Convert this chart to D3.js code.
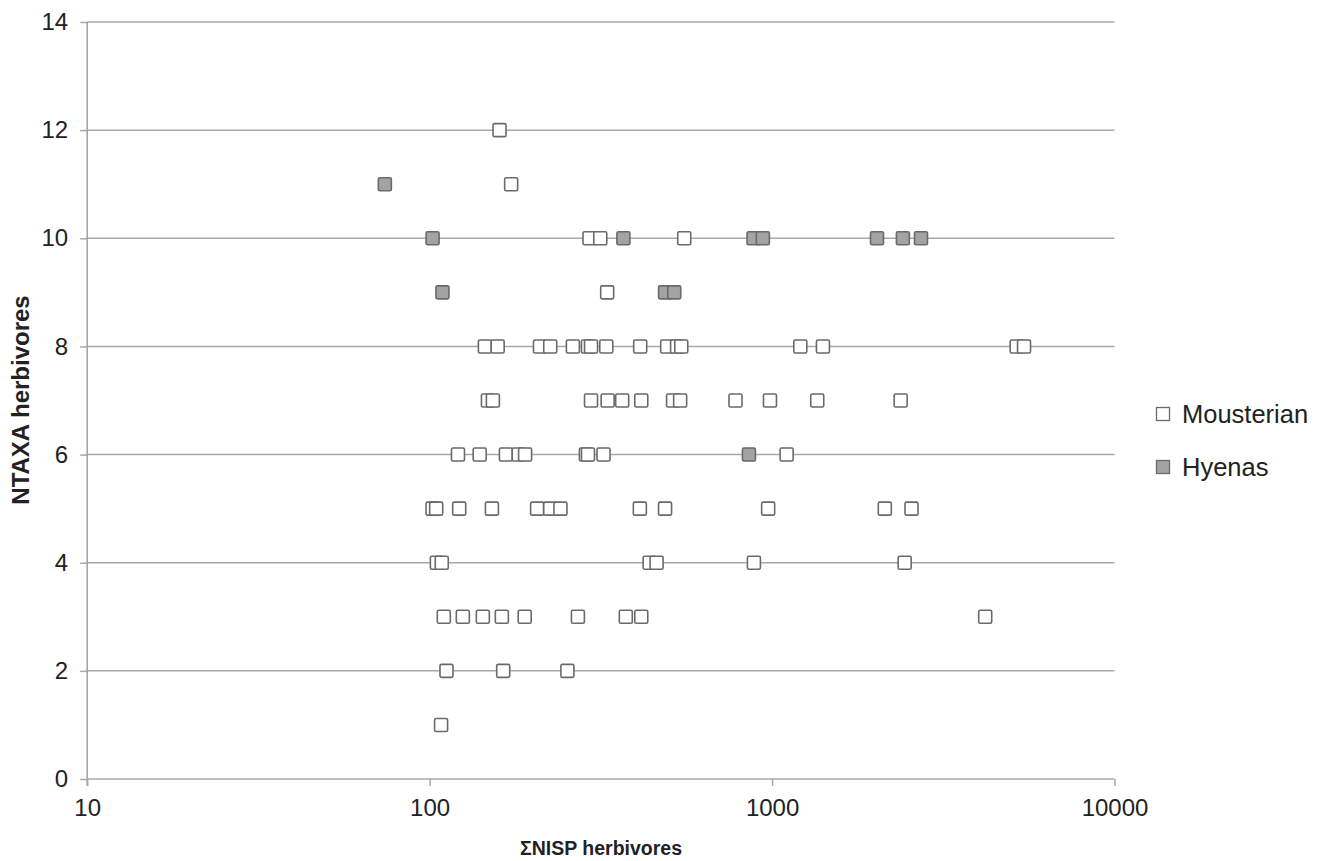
<!DOCTYPE html>
<html><head><meta charset="utf-8">
<script src="https://cdn.jsdelivr.net/npm/d3@7"></script>
<style>body{margin:0;background:#fff}</style>
</head><body>
<svg id="c" width="1325" height="861"></svg>
<script>
// NISP totals (x) and NTAXA (y) per assemblage
const mousterianNISP = [160,173,293,315,554,330,
  145,158,210,225,262,290,296,328,412,494,528,543,1209,1408,5180,5443,
  148,153,296,331,365,415,514,539,782,986,1355,2374,
  121,140,167,182,190,286,290,322,1103,
  102,104.5,122,152,206,225,241,411,487,974,2134,2554,
  105,108.5,439,460,885,2439,
  110,125,143,162.5,189.5,271,374,415,4192,
  112,164,252.5,
  108];
const mousterianNTAXA = [12,11,10,10,10,9,
  8,8,8,8,8,8,8,8,8,8,8,8,8,8,8,8,
  7,7,7,7,7,7,7,7,7,7,7,7,
  6,6,6,6,6,6,6,6,6,
  5,5,5,5,5,5,5,5,5,5,5,5,
  4,4,4,4,4,4,
  3,3,3,3,3,3,3,3,3,
  2,2,2,
  1];
const hyenaNISP  = [74,102,368,883,940,2025,2410,2722,109,487,518,856];
const hyenaNTAXA = [11,10,10,10,10,10,10,10,9,9,9,6];
const xTicks = [10,100,1000,10000];
const yTicks = [0,2,4,6,8,10,12,14];
const seriesNames = ["Mousterian","Hyenas"];
const seriesFill = ["#ffffff","#a3a3a3"];

const svg = d3.select("#c");
const m = {l:87.2, r:1114.5, t:22, b:779};
const x = d3.scaleLog().domain([10,10000]).range([m.l,m.r]);
const y = d3.scaleLinear().domain([0,14]).range([m.b,m.t]);
const font = "'Liberation Sans', Arial, sans-serif";

// gridlines
svg.append("g").selectAll("line").data(yTicks.filter(d=>d>0)).join("line")
  .attr("x1",m.l).attr("x2",m.r).attr("y1",d=>y(d)).attr("y2",d=>y(d))
  .attr("stroke","#a8a8a8").attr("stroke-width",1.5);

// y axis
const ya = svg.append("g").attr("transform",`translate(${m.l},0)`)
  .call(d3.axisLeft(y).tickValues(yTicks).tickSize(7).tickPadding(12).tickFormat(d3.format("d")));
ya.select(".domain").remove();
ya.append("line").attr("x1",0).attr("x2",0).attr("y1",m.t).attr("y2",m.b+7).attr("stroke","#a0a0a0").attr("stroke-width",1.5);
ya.selectAll(".tick line").attr("stroke","#a8a8a8").attr("stroke-width",1.5);
ya.selectAll("text").attr("font-family",font).attr("font-size",24).attr("fill","#222");

// x axis
const xa = svg.append("g").attr("transform",`translate(0,${m.b})`)
  .call(d3.axisBottom(x).tickValues(xTicks).tickSize(7).tickPadding(13).tickFormat(d3.format("d")));
xa.select(".domain").attr("stroke","#a8a8a8").attr("stroke-width",1.5).attr("d",`M${m.l},0H${m.r}`);
xa.selectAll(".tick line").attr("stroke","#a8a8a8").attr("stroke-width",1.5);
xa.selectAll("text").attr("font-family",font).attr("font-size",24).attr("fill","#222");

// markers
const S = 13;
function drawSeries(xs, ys, fill){
  svg.append("g").selectAll("rect").data(xs.map((v,i)=>[v,ys[i]])).join("rect")
    .attr("x",d=>x(d[0])-S/2).attr("y",d=>y(d[1])-S/2).attr("width",S).attr("height",S)
    .attr("rx",1.5).attr("fill",fill).attr("stroke","#6a6a6a").attr("stroke-width",1.6);
}
drawSeries(mousterianNISP, mousterianNTAXA, seriesFill[0]);
drawSeries(hyenaNISP, hyenaNTAXA, seriesFill[1]);

// axis titles
svg.append("text").attr("x",601).attr("y",855).attr("text-anchor","middle")
  .attr("font-family",font).attr("font-weight","bold").attr("font-size",19.5).attr("fill","#222")
  .text("ΣNISP herbivores");
svg.append("text").attr("transform","translate(29,400) rotate(-90)").attr("text-anchor","middle")
  .attr("font-family",font).attr("font-weight","bold").attr("font-size",24).attr("fill","#222")
  .text("NTAXA herbivores");

// legend
const lg = svg.append("g");
seriesNames.forEach((n,i)=>{
  const cy = 414 + i*53;
  lg.append("rect").attr("x",1156.5).attr("y",cy-6.5).attr("width",13).attr("height",13)
    .attr("fill",seriesFill[i]).attr("stroke","#6a6a6a").attr("stroke-width",1.3);
  lg.append("text").attr("x",1182).attr("y",cy+8.5).attr("font-family",font).attr("font-size",25.5).attr("fill","#222").text(n);
});
</script>
</body></html>
